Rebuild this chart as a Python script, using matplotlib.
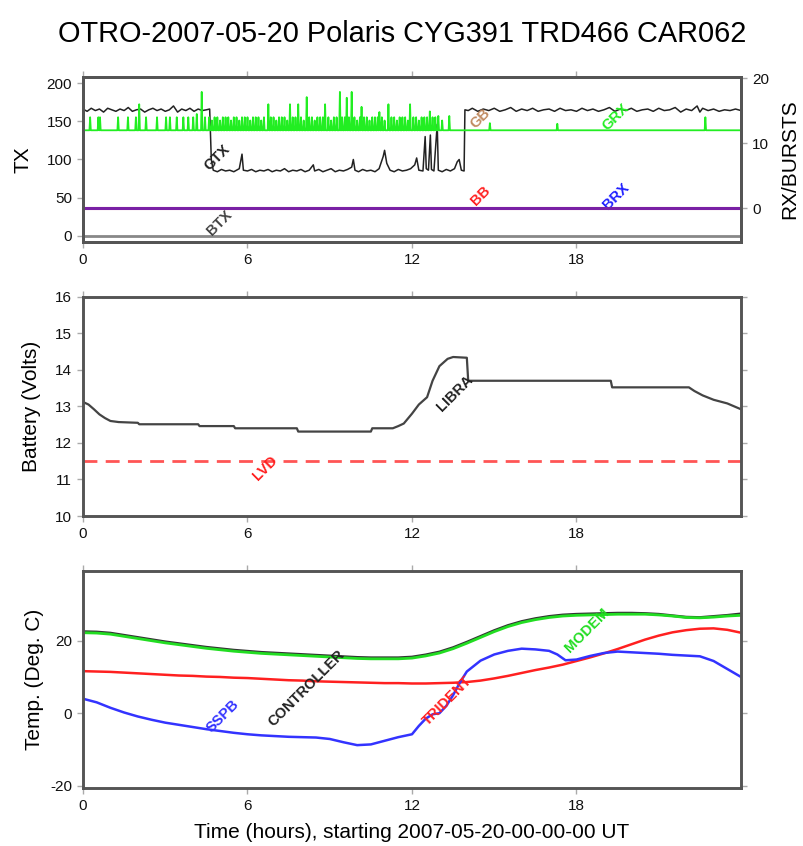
import matplotlib
matplotlib.use('Agg')
import matplotlib.pyplot as plt

plt.rcParams['font.family'] = ['Liberation Sans', 'DejaVu Sans']
plt.rcParams['axes.unicode_minus'] = False

title = 'OTRO-2007-05-20 Polaris CYG391 TRD466 CAR062'
xlabel = 'Time (hours), starting 2007-05-20-00-00-00 UT'
hour_ticks = [0, 6, 12, 18]

# --- panel 1: TX (left) and RX/BURSTS (right) ---
gtx = [(0.0, 166), (0.15, 163), (0.3, 167), (0.45, 164), (0.6, 166), (0.75, 162), (0.9, 167),
       (1.05, 165), (1.2, 163), (1.35, 166), (1.5, 164), (1.65, 168), (1.8, 163), (1.95, 165),
       (2.1, 166), (2.25, 162), (2.4, 165), (2.55, 167), (2.7, 164), (2.85, 166), (3.0, 163),
       (3.15, 165), (3.3, 170), (3.45, 162), (3.6, 166), (3.75, 164), (3.9, 167), (4.05, 163),
       (4.2, 166), (4.35, 164), (4.5, 165), (4.62, 166), (4.68, 100), (4.75, 86), (4.9, 84),
       (5.05, 87), (5.2, 85), (5.35, 86), (5.5, 84), (5.7, 88), (5.8, 107), (5.85, 86), (6.0, 85),
       (6.15, 87), (6.3, 84), (6.45, 86), (6.6, 85), (6.75, 87), (6.9, 84), (7.05, 86), (7.2, 85),
       (7.35, 88), (7.5, 84), (7.65, 86), (7.8, 85), (7.95, 87), (8.1, 84), (8.25, 86), (8.4, 93),
       (8.45, 85), (8.6, 87), (8.75, 84), (8.9, 86), (9.05, 88), (9.2, 84), (9.35, 86), (9.5, 85),
       (9.65, 87), (9.8, 90), (9.86, 100), (9.92, 86), (10.05, 84), (10.2, 87), (10.35, 85),
       (10.5, 86), (10.65, 84), (10.8, 88), (10.95, 104), (11.0, 112), (11.08, 95), (11.2, 86),
       (11.35, 84), (11.5, 87), (11.65, 85), (11.8, 86), (11.95, 88), (12.1, 93), (12.17, 102),
       (12.25, 86), (12.4, 85), (12.48, 130), (12.52, 88), (12.6, 86), (12.67, 132), (12.71, 87),
       (12.8, 85), (12.92, 146), (12.96, 86), (13.1, 84), (13.25, 87), (13.4, 85), (13.55, 88),
       (13.65, 97), (13.72, 100), (13.8, 86), (13.9, 85), (13.93, 165), (14.05, 164), (14.2, 167),
       (14.4, 163), (14.6, 166), (14.8, 164), (15.0, 167), (15.2, 163), (15.4, 165), (15.6, 168),
       (15.8, 163), (16.0, 166), (16.2, 164), (16.4, 167), (16.6, 163), (16.8, 165), (17.0, 166),
       (17.2, 163), (17.4, 167), (17.6, 164), (17.8, 165), (18.0, 163), (18.2, 167), (18.4, 164),
       (18.6, 166), (18.8, 163), (19.0, 165), (19.2, 168), (19.4, 163), (19.6, 166), (19.8, 164),
       (20.0, 167), (20.2, 163), (20.4, 165), (20.6, 166), (20.8, 163), (21.0, 167), (21.2, 164),
       (21.4, 165), (21.6, 168), (21.8, 162), (22.0, 166), (22.2, 164), (22.4, 170), (22.5, 162),
       (22.6, 167), (22.8, 164), (23.0, 166), (23.2, 163), (23.4, 165), (23.6, 164), (23.8, 166),
       (24.0, 164)]
btx_level = 0

grx_base = 12
grx_spikes = [(0.26, 14), (0.56, 14), (0.62, 14), (1.28, 14), (1.64, 14), (1.93, 14), (2.05, 16),
              (2.3, 14), (2.7, 14), (3.03, 14), (3.17, 14), (3.42, 14), (3.66, 14), (3.84, 14),
              (4.02, 14), (4.15, 14.5), (4.33, 17.9), (4.45, 14),
              (4.6, 14), (4.7, 13.5), (4.8, 14), (4.9, 14), (5.0, 13.5), (5.1, 14), (5.2, 14),
              (5.3, 14), (5.4, 13.5), (5.5, 14), (5.6, 14), (5.7, 13.5), (5.8, 14), (5.9, 14),
              (6.0, 14), (6.1, 13.5), (6.2, 14), (6.3, 14), (6.4, 14), (6.5, 13.5), (6.6, 14),
              (6.76, 16), (6.85, 14), (6.95, 14), (7.05, 13.5), (7.15, 14), (7.25, 14), (7.35, 14),
              (7.45, 13.5), (7.55, 16), (7.65, 14), (7.75, 14), (7.85, 16), (7.95, 14), (8.05, 13.5),
              (8.16, 17.1), (8.25, 14), (8.35, 14), (8.45, 13.5), (8.55, 14), (8.65, 14), (8.75, 14),
              (8.83, 16), (8.95, 14), (9.05, 13.5), (9.15, 14), (9.25, 14), (9.37, 17.9), (9.45, 14),
              (9.55, 14), (9.62, 17), (9.7, 14), (9.8, 17.9), (9.9, 14), (10.0, 13.5), (10.1, 14),
              (10.16, 15.6), (10.25, 14), (10.35, 14), (10.45, 13.5), (10.55, 14), (10.65, 14),
              (10.75, 14), (10.81, 14.8), (10.9, 14), (11.0, 13.5), (11.14, 16), (11.25, 14),
              (11.35, 14), (11.45, 13.5), (11.55, 14), (11.65, 14), (11.75, 14), (11.85, 13.5),
              (11.93, 16), (12.05, 14), (12.15, 14), (12.25, 13.5), (12.35, 14), (12.45, 14),
              (12.55, 14), (12.65, 14.9), (12.75, 14), (12.85, 14), (12.96, 14.2), (13.1, 13.5),
              (13.36, 14.2), (14.84, 13.1), (17.3, 13.0), (22.7, 14.0)]
bb_level = 0
brx_level = 0

# --- panel 2: battery ---
battery = [(0.0, 13.12), (0.2, 13.05), (0.4, 12.92), (0.6, 12.78), (0.8, 12.68), (1.0, 12.6),
           (1.3, 12.57), (2.0, 12.55), (2.05, 12.51), (4.2, 12.51), (4.25, 12.46), (5.5, 12.46),
           (5.55, 12.4), (7.8, 12.4), (7.85, 12.31), (10.5, 12.31), (10.55, 12.4), (11.3, 12.4),
           (11.5, 12.46), (11.7, 12.53), (12.0, 12.8), (12.25, 13.05), (12.55, 13.25),
           (12.75, 13.7), (13.0, 14.1), (13.3, 14.3), (13.5, 14.35), (14.0, 14.33), (14.05, 13.7),
           (19.25, 13.7), (19.3, 13.52), (22.1, 13.52), (22.3, 13.42), (22.6, 13.3), (23.0, 13.18),
           (23.5, 13.08), (24.0, 12.92)]
lvd_level = 11.5

# --- panel 3: temperatures, half-hourly ---
temp_hours = [0, 0.5, 1, 1.5, 2, 2.5, 3, 3.5, 4, 4.5, 5, 5.5, 6, 6.5, 7, 7.5, 8, 8.5, 9, 9.5,
              10, 10.5, 11, 11.5, 12, 12.5, 13, 13.5, 14, 14.5, 15, 15.5, 16, 16.5, 17, 17.5,
              18, 18.5, 19, 19.5, 20, 20.5, 21, 21.5, 22, 22.5, 23, 23.5, 24]
modem = [22.2, 22.1, 21.8, 21.2, 20.6, 20.0, 19.4, 18.9, 18.4, 17.9, 17.5, 17.1, 16.8, 16.5,
         16.3, 16.1, 15.9, 15.7, 15.5, 15.3, 15.1, 15.0, 15.0, 15.0, 15.2, 15.8, 16.6, 17.8,
         19.3, 20.9, 22.5, 23.9, 25.0, 25.8, 26.4, 26.8, 27.0, 27.1, 27.2, 27.3, 27.3, 27.3,
         27.1, 26.8, 26.4, 26.3, 26.5, 26.8, 27.0]
controller = [22.5, 22.4, 22.1, 21.5, 20.9, 20.3, 19.7, 19.2, 18.7, 18.2, 17.8, 17.4, 17.1,
              16.8, 16.6, 16.4, 16.2, 16.0, 15.8, 15.6, 15.4, 15.3, 15.3, 15.3, 15.5, 16.1,
              16.9, 18.1, 19.6, 21.2, 22.8, 24.2, 25.3, 26.1, 26.7, 27.1, 27.3, 27.4, 27.5,
              27.6, 27.6, 27.5, 27.3, 26.9, 26.5, 26.4, 26.7, 27.0, 27.4]
trident = [11.6, 11.5, 11.4, 11.2, 11.0, 10.8, 10.6, 10.4, 10.3, 10.1, 10.0, 9.8, 9.7, 9.5,
           9.3, 9.1, 9.0, 8.8, 8.7, 8.6, 8.5, 8.4, 8.3, 8.3, 8.2, 8.2, 8.3, 8.4, 8.6, 9.0, 9.6,
           10.3, 11.1, 11.9, 12.6, 13.4, 14.4, 15.4, 16.5, 17.7, 19.0, 20.3, 21.4, 22.3, 22.9,
           23.3, 23.4, 23.0, 22.2]
sspb_hours = [0, 0.5, 1, 1.5, 2, 2.5, 3, 3.5, 4, 4.5, 5, 5.5, 6, 6.5, 7, 7.5, 8, 8.5, 9, 9.5,
              10, 10.5, 11, 11.5, 12, 12.25, 12.5, 12.75, 13, 13.25, 13.5, 13.75, 14, 14.5, 15,
              15.5, 16, 16.5, 17, 17.3, 17.6, 18, 18.5, 19, 19.5, 20, 20.5, 21, 21.5, 22, 22.5,
              23, 23.5, 24]
sspb = [4.0, 3.0, 1.5, 0.2, -0.9, -1.8, -2.6, -3.2, -3.8, -4.4, -4.9, -5.4, -5.8, -6.1, -6.3,
        -6.5, -6.6, -6.7, -7.1, -8.0, -8.8, -8.6, -7.6, -6.6, -5.8, -3.5, -1.5, -0.3, 0.0, 2.0,
        5.0, 8.5, 11.5, 14.5, 16.2, 17.2, 17.8, 17.6, 17.2, 16.2, 14.6, 14.8, 15.8, 16.6, 17.0,
        16.8, 16.6, 16.4, 16.1, 15.9, 15.7, 14.4, 12.2, 10.0]

spine_col = '#555555'


def style(ax):
    for s in ax.spines.values():
        s.set_color(spine_col)
        s.set_linewidth(2.1)
    ax.tick_params(direction='out', length=4, width=1, color='#aaaaaa', labelsize=11,
                   top=True, right=True, labelcolor='#111111', pad=4)
    ax.set_xlim(0, 24)
    ax.set_xticks(hour_ticks)


fig = plt.figure(figsize=(8.04, 8.46), dpi=100)
fig.suptitle(title, fontsize=20.8, y=0.976)

lft, wid = 83 / 804, (741 - 83) / 804
ax1 = fig.add_axes([lft, 1 - 241.7 / 846, wid, (241.7 - 77.3) / 846])
ax2 = fig.add_axes([lft, 1 - 516 / 846, wid, (516 - 296.7) / 846])
ax3 = fig.add_axes([lft, 1 - 788.3 / 846, wid, (788.3 - 570.7) / 846])

# panel 1
ax1.plot([p[0] for p in gtx], [p[1] for p in gtx], color='#222222', lw=1.1)
ax1.axhline(btx_level, color='#888888', lw=2)
ax1.set_ylim(-7.5, 207.5)
ax1.set_yticks([0, 50, 100, 150, 200])
ax1.set_ylabel('TX', fontsize=15, labelpad=10)
style(ax1)
ax1.tick_params(right=False)

axr = ax1.twinx()
gx, gy = [0], [grx_base]
for t, h in grx_spikes:
    gx += [t - 0.025, t, t + 0.025]
    gy += [grx_base, h, grx_base]
gx.append(24)
gy.append(grx_base)
axr.plot(gx, gy, color='#22ee22', lw=1.3)
axr.axhline(bb_level, color='#ff2020', lw=2.2)
axr.axhline(brx_level, color='#2020ff', lw=2.2, alpha=0.6)
axr.set_ylim(-5.14, 20.15)
axr.set_yticks([0, 10, 20])
axr.set_ylabel('RX/BURSTS', fontsize=15, labelpad=8)
style(axr)

lab = dict(rotation=45, ha='center', va='center', fontsize=10.5, fontweight='bold')
ax1.text(4.89, 102, 'GTX', color='#222222', **lab)
ax1.text(4.98, 17.6, 'BTX', color='#444444', **lab)
ax1.text(14.5, 154, 'GB', color='#c08a60', **lab)
ax1.text(19.44, 155, 'GRX', color='#22ee22', **lab)
ax1.text(14.5, 52, 'BB', color='#ff2020', **lab)
ax1.text(19.44, 52, 'BRX', color='#2020ff', **lab)

# panel 2
ax2.plot([p[0] for p in battery], [p[1] for p in battery], color='#444444', lw=1.6)
ax2.axhline(lvd_level, color='#ff5555', lw=2, ls=(0, (5, 3)))
ax2.set_ylim(10, 16)
ax2.set_ylabel('Battery (Volts)', fontsize=15, labelpad=10)
style(ax2)
ax2.text(13.56, 13.35, 'LIBRA', color='#222222', **lab)
ax2.text(6.66, 11.3, 'LVD', color='#ff2020', **lab)

# panel 3
ax3.plot(temp_hours, controller, color='#333333', lw=2)
ax3.plot(temp_hours, modem, color='#22dd22', lw=2)
ax3.plot(temp_hours, trident, color='#ff2020', lw=1.8)
ax3.plot(sspb_hours, sspb, color='#3333ff', lw=1.8)
ax3.set_ylim(-20.7, 39.3)
ax3.set_yticks([-20, 0, 20])
ax3.set_ylabel('Temp. (Deg. C)', fontsize=15, labelpad=4)
ax3.set_xlabel(xlabel, fontsize=15, labelpad=7)
style(ax3)
ax3.text(5.11, -0.9, 'SSPB', color='#3333ff', **lab)
ax3.text(8.15, 6.9, 'CONTROLLER', color='#222222', **lab)
ax3.text(13.3, 3.5, 'TRIDENT', color='#ff2020', **lab)
ax3.text(18.4, 23, 'MODEM', color='#22dd22', **lab)

fig.savefig('out.png', dpi=100)
